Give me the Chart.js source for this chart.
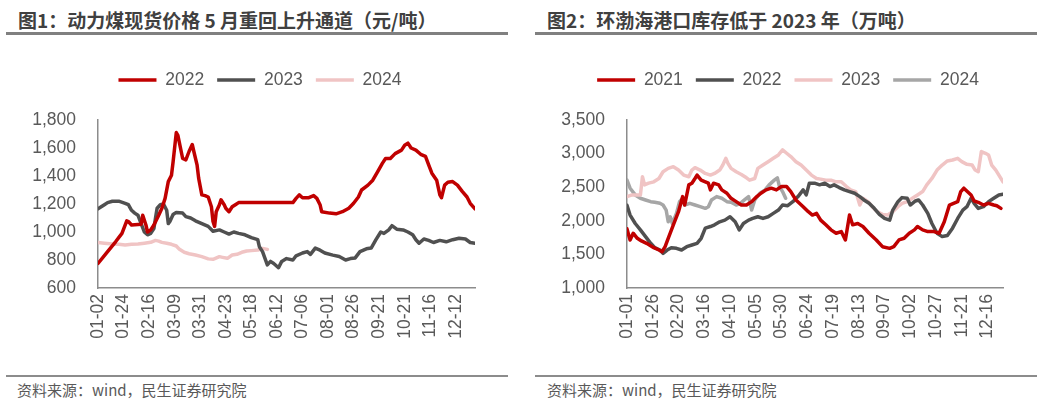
<!DOCTYPE html>
<html><head><meta charset="utf-8">
<script src="https://cdn.jsdelivr.net/npm/chart.js@4/dist/chart.umd.min.js"></script>
<style>
html,body{margin:0;padding:0;background:#fff;}
body{width:1037px;height:404px;position:relative;overflow:hidden;font-family:"Noto Sans CJK SC",sans-serif;}
.title{position:absolute;top:7px;font-size:19px;font-weight:bold;color:#404040;line-height:26px;white-space:nowrap;}
.rule{position:absolute;height:3px;background:#808080;}
.rule2{position:absolute;height:2px;background:#8c8c8c;}
.src{position:absolute;top:380px;font-size:15px;color:#595959;line-height:20px;white-space:nowrap;}
canvas{position:absolute;}
</style></head>
<body>
<div class="title" style="left:18px">图1：动力煤现货价格 5 月重回上升通道（元/吨）</div>
<div class="rule" style="left:6px;width:502px;top:32px"></div>
<div class="title" style="left:547px">图2：环渤海港口库存低于 2023 年（万吨）</div>
<div class="rule" style="left:535px;width:502px;top:32px"></div>
<canvas id="c1" width="518" height="330" style="left:0;top:40px"></canvas>
<canvas id="c2" width="517" height="330" style="left:520px;top:40px"></canvas>
<div class="rule2" style="left:6px;width:502px;top:375px"></div>
<div class="rule2" style="left:535px;width:502px;top:375px"></div>
<div class="src" style="left:17px">资料来源：wind，民生证券研究院</div>
<div class="src" style="left:547px">资料来源：wind，民生证券研究院</div>
<script>
// ---------- Chart 1: thermal coal spot price (yuan/t), x = trading-day index ----------
const coalTicks = ['01-02','01-24','02-16','03-09','03-31','04-23','05-18','06-12','07-06','08-01','08-26','09-21','10-21','11-16','12-12'];
const coalYMin = 600, coalYMax = 1800, coalYStep = 200;
const coalDays2022 = [0,6,11,15,18,19,21,27,28,30,31,33,35,38,40,42,44,46,47,49,50,53,55,57,59,60,62,63,65,67,69,71,72,73,74,76,77,79,80,82,84,86,88,122,124,126,128,132,135,137,139,140,145,149,153,157,160,163,165,169,172,175,178,180,183,186,190,192,194,196,199,202,205,207,209,212,214,215,217,219,222,225,228,231,233,236];
const coal2022 = [775,860,930,990,1080,1075,1050,1055,1120,1050,1000,1015,1050,1120,1170,1240,1360,1405,1500,1710,1690,1525,1515,1575,1625,1575,1480,1385,1265,1260,1250,1180,1075,1040,1145,1195,1230,1195,1170,1145,1180,1195,1210,1210,1240,1265,1245,1245,1260,1240,1195,1145,1135,1130,1145,1170,1205,1250,1300,1335,1370,1430,1490,1525,1525,1560,1585,1620,1635,1600,1585,1555,1540,1480,1420,1370,1265,1245,1335,1355,1360,1335,1290,1250,1205,1165];
const coalDays2023 = [0,2,4,6,9,13,17,19,21,23,25,27,29,31,33,35,36,37,39,41,43,44,45,47,49,53,55,58,61,65,69,72,76,79,82,85,88,92,96,100,101,103,106,108,110,113,115,118,122,124,128,131,133,136,139,142,147,151,155,158,161,164,168,171,174,177,179,182,184,187,191,194,197,199,201,204,207,210,214,218,222,226,230,233,236];
const coal2023 = [1165,1180,1195,1210,1220,1220,1205,1195,1155,1135,1120,1060,1000,980,990,1025,1100,1170,1195,1200,1155,1060,1075,1125,1140,1135,1110,1100,1080,1060,1040,1005,1015,1000,985,1000,990,980,960,945,895,860,765,790,775,745,790,810,800,830,850,860,840,885,870,850,835,825,800,810,815,860,880,885,945,1000,990,1015,1045,1020,1015,1000,980,945,920,950,940,925,940,930,945,955,950,925,920];
const coalDays2024 = [0,4,9,13,17,21,25,29,33,36,38,40,43,46,49,51,54,57,61,65,69,72,76,78,81,84,87,90,93,96,100,103,106];
const coal2024 = [925,920,915,912,907,912,915,920,926,940,935,926,920,912,900,876,855,845,836,824,808,805,824,819,812,836,841,855,864,867,871,883,876];

// ---------- Chart 2: Bohai-rim port inventory (10k t), x = day of year ----------
const portTicks = ['01-01','01-26','02-20','03-16','04-10','05-05','05-30','06-24','07-19','08-13','09-07','10-02','10-27','11-21','12-16'];
const portYMin = 1000, portYMax = 3500, portYStep = 500;
const portDays2021 = [0,3,6,10,14,19,26,31,34,37,40,45,50,54,56,60,63,66,68,72,76,79,81,84,89,92,97,101,106,111,116,121,126,130,135,140,145,150,155,159,164,171,176,180,184,188,193,198,203,208,212,216,219,224,229,235,242,248,255,259,264,269,274,279,282,287,292,298,303,308,313,317,321,324,327,334,337,341,346,351,356,359,363];
const port2021 = [1880,1715,1815,1740,1700,1665,1600,1565,1540,1615,1740,1940,2135,2360,2235,2535,2560,2630,2680,2605,2580,2560,2460,2560,2535,2460,2410,2335,2285,2235,2235,2285,2360,2410,2460,2485,2460,2510,2510,2435,2310,2210,2135,2085,2110,2010,1940,1865,1815,1840,1715,2085,1940,1960,1915,1815,1715,1615,1590,1615,1715,1740,1815,1865,1915,1865,1840,1840,1815,1985,2235,2260,2285,2435,2485,2385,2295,2275,2235,2260,2235,2225,2185];
const portDays2022 = [0,3,8,13,18,23,27,32,35,39,43,48,53,58,63,68,72,76,81,85,90,95,100,105,109,113,118,122,127,132,137,142,147,151,156,161,166,171,174,177,182,187,192,197,201,206,211,216,221,226,230,235,240,245,250,255,258,263,267,272,275,280,283,287,292,296,301,306,311,316,321,326,330,334,337,341,346,351,356,361,365];
const port2022 = [2230,2085,1960,1865,1765,1665,1600,1565,1515,1565,1600,1590,1565,1615,1640,1665,1740,1890,1915,1940,1985,2010,2060,1985,1865,1960,2010,2035,2060,2035,2060,2110,2160,2235,2225,2285,2360,2460,2385,2560,2560,2535,2560,2510,2535,2495,2460,2435,2410,2360,2310,2260,2185,2095,2035,2010,2160,2285,2345,2335,2235,2295,2310,2235,2110,1960,1815,1765,1780,1890,2035,2160,2210,2335,2260,2185,2210,2285,2335,2385,2395];
const portDays2023 = [0,5,13,15,17,21,26,31,35,40,45,50,55,60,63,66,71,76,81,85,90,93,96,98,101,106,111,116,119,124,127,132,137,142,147,151,155,159,164,169,174,179,184,188,193,198,203,208,213,217,222,226,229,234,238,243,248,253,258,263,267,272,277,282,287,291,296,301,306,311,316,321,325,330,335,338,341,344,348,351,354,358,361,365];
const port2023 = [2360,2385,2385,2655,2535,2560,2580,2630,2730,2780,2805,2755,2680,2655,2755,2790,2755,2705,2680,2705,2755,2830,2930,2855,2780,2730,2690,2640,2605,2630,2780,2830,2880,2930,2980,3055,3005,2955,2880,2830,2755,2680,2630,2620,2605,2605,2580,2580,2510,2460,2435,2235,2335,2285,2210,2135,2095,2085,2135,2210,2260,2285,2335,2385,2435,2535,2630,2755,2830,2890,2905,2930,2880,2840,2830,2755,2730,3030,3005,2980,2830,2755,2680,2580];
const portDays2024 = [0,3,8,13,18,23,27,32,35,38,40,42,44,48,51,54,56,61,66,71,76,79,82,87,92,97,101,106,110,114,118,121,124,129,134,138,143,146,148,151,154];
const port2024 = [2605,2485,2385,2335,2310,2285,2275,2260,2235,2160,1985,2060,1960,2110,2285,2335,2235,2260,2235,2210,2185,2210,2310,2360,2335,2285,2275,2235,2260,2310,2360,2160,2310,2410,2460,2535,2605,2640,2510,2435,2335];

// ---------- styling ----------
const RED = '#C00000', DARK = '#505050', PINK = '#F0C4C4', LGRAY = '#A6A6A6';
const TXT = '#595959', AXIS = '#8c8c8c';
const FS = 17.5, LPAD = 13;
const CANVAS_TOP = 40, PLOT_TOP = 120, PLOT_BOTTOM = 288, CANVAS_H = 330;

const legendPlace = {
  id: 'legendPlace',
  beforeDraw(chart, args, opts) {
    const lg = chart.legend;
    if (!lg) return;
    const dx = opts.cx - (lg.left + lg.right) / 2;
    lg.left += dx; lg.right += dx;
    const h = lg.bottom - lg.top;
    lg.top = opts.cy - LPAD - FS / 2;
    lg.bottom = lg.top + h;
  }
};

function pts(xs, ys) { return xs.map((x, i) => ({x: x, y: ys[i]})); }
function ds(label, xs, ys, color) {
  return {label, data: pts(xs, ys), borderColor: color, backgroundColor: color,
    borderWidth: 3.5, pointRadius: 0, tension: 0, fill: false,
    borderJoinStyle: 'round', borderCapStyle: 'round'};
}

function makeChart(id, cfg) {
  const legendH = FS + LPAD + 10;
  return new Chart(document.getElementById(id), {
    type: 'line',
    data: {datasets: cfg.datasets},
    plugins: [legendPlace],
    options: {
      responsive: false, animation: false, devicePixelRatio: 1, locale: 'en-US',
      layout: {padding: {top: (PLOT_TOP - CANVAS_TOP) - legendH, right: cfg.padRight, bottom: 0, left: 0}},
      plugins: {
        legend: {display: true, position: 'top',
          labels: {usePointStyle: true, pointStyle: 'line', pointStyleWidth: 38, padding: LPAD,
                   color: TXT, font: {family: 'Liberation Sans', size: FS}}},
        tooltip: {enabled: false},
        legendPlace: {cx: cfg.legendCx, cy: 80 - CANVAS_TOP}
      },
      scales: {
        x: {type: 'linear', min: 0, max: cfg.xMax,
          grid: {display: false, drawTicks: false},
          border: {display: true, color: AXIS, width: 1.5},
          afterFit: s => { s.height = CANVAS_H - (PLOT_BOTTOM - CANVAS_TOP); },
          ticks: {stepSize: cfg.xStep, autoSkip: false, includeBounds: false,
            maxRotation: 90, minRotation: 90, padding: 6, color: TXT,
            font: {family: 'Liberation Sans', size: FS},
            callback: v => { const k = v / cfg.xStep; return Number.isInteger(k) && cfg.ticks[k] ? cfg.ticks[k] : ''; }}
        },
        y: {min: cfg.yMin, max: cfg.yMax,
          grid: {display: false, drawTicks: false},
          border: {display: true, color: AXIS, width: 1.5},
          afterFit: s => { s.width = cfg.yWidth; },
          ticks: {stepSize: cfg.yStep, padding: 22, color: TXT,
            font: {family: 'Liberation Sans', size: FS}}
        }
      }
    }
  });
}

makeChart('c1', {
  datasets: [ds('2022', coalDays2022, coal2022, RED), ds('2023', coalDays2023, coal2023, DARK), ds('2024', coalDays2024, coal2024, PINK)],
  ticks: coalTicks, xStep: 16, xMax: 236, yMin: coalYMin, yMax: coalYMax, yStep: coalYStep,
  yWidth: 98, padRight: 43, legendCx: 260
});
makeChart('c2', {
  datasets: [ds('2021', portDays2021, port2021, RED), ds('2022', portDays2022, port2022, DARK), ds('2023', portDays2023, port2023, PINK), ds('2024', portDays2024, port2024, LGRAY)],
  ticks: portTicks, xStep: 25, xMax: 365, yMin: portYMin, yMax: portYMax, yStep: portYStep,
  yWidth: 107, padRight: 34, legendCx: 788 - 520
});
</script>
</body></html>
